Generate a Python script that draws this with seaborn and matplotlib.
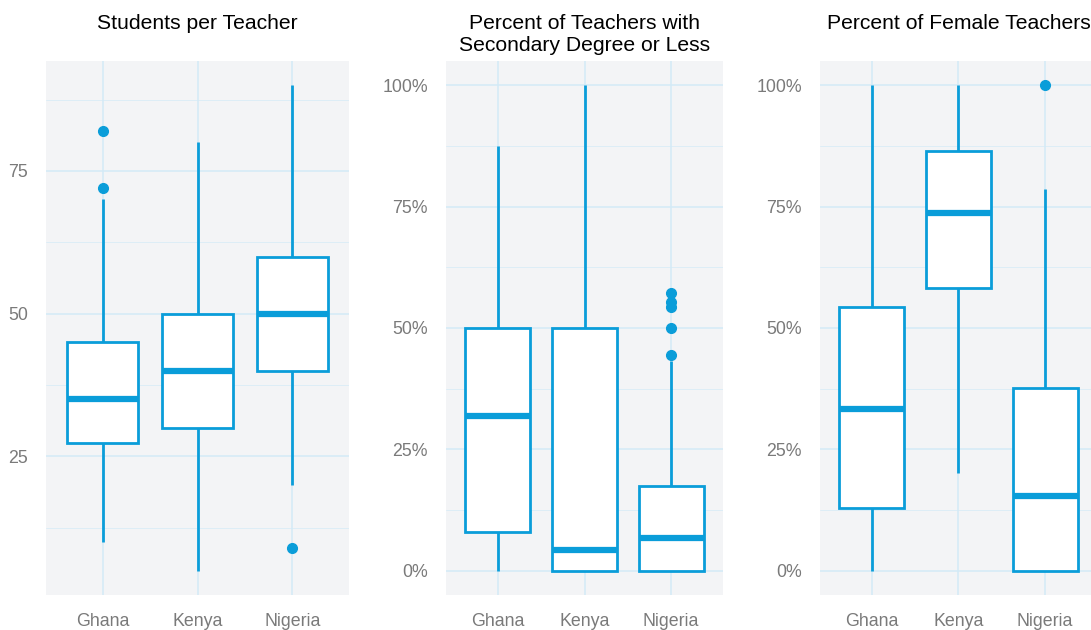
import numpy as np
import pandas as pd
import matplotlib
matplotlib.use("Agg")
import matplotlib.pyplot as plt
from matplotlib.ticker import FuncFormatter, MultipleLocator
import seaborn as sns

# Countries shown on every panel
countries = ["Ghana", "Kenya", "Nigeria"]

# Five-number summaries: low whisker, Q1, median, Q3, high whisker
students_stats = [[10, 27.3, 35, 45, 70], [5, 30, 40, 50, 80], [20, 40, 50, 60, 90]]
students_outliers = [[72, 82], [], [9]]

secondary_stats = [[0, 8.0, 31.9, 50, 87.4], [0, 0, 4.2, 50, 100], [0, 0, 6.8, 17.4, 43.1]]
secondary_outliers = [[], [], [44.5, 50, 54.4, 55.4, 57.3]]

female_stats = [[0, 13.0, 33.4, 54.4, 100], [20.2, 58.3, 73.6, 86.4, 100], [0, 0, 15.3, 37.7, 78.7]]
female_outliers = [[], [], [100]]

titles = ["Students per Teacher",
          "Percent of Teachers with\nSecondary Degree or Less",
          "Percent of Female Teachers"]

BLUE = "#0a9dd9"
GRID = "#d3eaf6"
PANEL = "#f3f4f6"
TICK_TXT = "#7a7a7a"


def build_frame(stats, outliers):
    """Long-form sample whose quartiles and whiskers reproduce the read summaries."""
    rows = []
    for country, (lo, q1, med, q3, hi), outs in zip(countries, stats, outliers):
        # quartile values repeated so the percentiles land exactly on them
        vals = [lo] + [q1] * 20 + [med] * 20 + [q3] * 20 + [hi] + list(outs)
        rows += [(country, v) for v in vals]
    return pd.DataFrame(rows, columns=["country", "value"])


panels = [
    (build_frame(students_stats, students_outliers), (0.75, 94.25), False),
    (build_frame(secondary_stats, secondary_outliers), (-5, 105), True),
    (build_frame(female_stats, female_outliers), (-5, 105), True),
]

sns.set_theme(style="white")
plt.rcParams["font.family"] = ["Liberation Sans", "DejaVu Sans"]

fig = plt.figure(figsize=(10.91, 6.3), dpi=100)
bottom, height = 0.0556, 0.8476
lefts = [0.0422, 0.4088, 0.7516]
widths = [0.2777, 0.2539, 0.2539]

for i, (df, ylim, pct) in enumerate(panels):
    ax = fig.add_axes([lefts[i], bottom, widths[i], height])
    ax.set_facecolor(PANEL)
    sns.boxplot(
        data=df, x="country", y="value", order=countries, ax=ax,
        width=0.75, color="white", linecolor=BLUE, linewidth=2,
        showcaps=False,
        boxprops=dict(facecolor="white", edgecolor=BLUE, linewidth=2),
        medianprops=dict(color=BLUE, linewidth=4.5, solid_capstyle="butt"),
        whiskerprops=dict(color=BLUE, linewidth=2),
        flierprops=dict(marker="o", markersize=7, markerfacecolor=BLUE,
                        markeredgecolor=BLUE),
        zorder=3,
    )
    ax.set_xlim(-0.6, 2.6)
    ax.set_ylim(*ylim)
    ax.yaxis.set_major_locator(MultipleLocator(25))
    ax.yaxis.set_minor_locator(MultipleLocator(12.5))
    if pct:
        ax.yaxis.set_major_formatter(FuncFormatter(lambda v, p: f"{v:.0f}%"))
    ax.grid(True, which="major", color=GRID, linewidth=1.1, zorder=0)
    ax.grid(True, which="minor", axis="y", color=GRID, linewidth=0.6, alpha=0.8, zorder=0)
    ax.set_axisbelow(True)
    for s in ax.spines.values():
        s.set_visible(False)
    ax.tick_params(axis="both", which="major", length=8, color=GRID, width=1.1,
                   labelsize=12.8, labelcolor=TICK_TXT)
    ax.tick_params(axis="y", which="major", pad=5)
    ax.tick_params(axis="x", which="major", pad=5)
    ax.tick_params(axis="y", which="minor", length=0)
    ax.set_xlabel("")
    ax.set_ylabel("")
    # titles are top-aligned across the three panels
    fig.text(lefts[i] + widths[i] / 2, 0.977, titles[i], ha="center", va="top",
             fontsize=15.2, color="black", linespacing=1.2)

fig.savefig("out.png", dpi=100)
